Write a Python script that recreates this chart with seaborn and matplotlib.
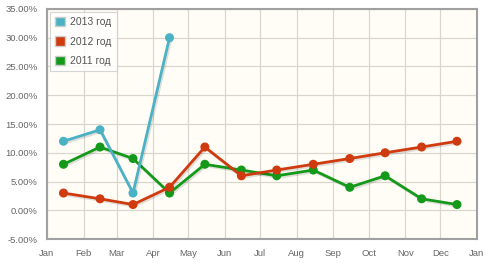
import seaborn as sns
import pandas as pd
import matplotlib.pyplot as plt
import matplotlib.dates as mdates
import matplotlib.patheffects as pe
from matplotlib.patches import Patch

# Monthly values, percent (points sit mid-month)
months = pd.date_range("2013-01-01", periods=12, freq="MS") + pd.Timedelta(days=14)
values_2013 = [12, 14, 3, 30]
values_2012 = [3, 2, 1, 4, 11, 6, 7, 8, 9, 10, 11, 12]
values_2011 = [8, 11, 9, 3, 8, 7, 6, 7, 4, 6, 2, 1]
series_names = ["2013 год", "2012 год", "2011 год"]
colors = {"2013 год": "#4bb2c5", "2012 год": "#cf3a0e", "2011 год": "#14991a"}
y_ticks = [-5, 0, 5, 10, 15, 20, 25, 30, 35]


def build_frame():
    parts = []
    for name, vals in zip(series_names, [values_2013, values_2012, values_2011]):
        parts.append(pd.DataFrame({"date": months[:len(vals)], "value": vals, "series": name}))
    return pd.concat(parts, ignore_index=True)


def main():
    data = build_frame()
    sns.set_style("white")
    plt.rcParams['font.family'] = ['Liberation Sans', 'DejaVu Sans']

    fig = plt.figure(figsize=(5, 2.63), dpi=100)
    ax = fig.add_axes([0.094, 0.091, 0.86, 0.875])
    ax.set_facecolor("#fffdf6")

    # draw oldest first so 2013 ends up on top
    for name in reversed(series_names):
        sub = data[data["series"] == name]
        sns.lineplot(data=sub, x="date", y="value", color=colors[name], marker="o",
                     markersize=6.5, markeredgewidth=0, linewidth=2, ax=ax, legend=False)
    for line in ax.get_lines():
        line.set_path_effects([pe.SimpleLineShadow(offset=(1, -1.2), alpha=0.12), pe.Normal()])

    ax.set_xlim(pd.Timestamp("2013-01-01"), pd.Timestamp("2014-01-01"))
    ax.xaxis.set_major_locator(mdates.MonthLocator())
    ax.xaxis.set_major_formatter(mdates.DateFormatter("%b"))
    ax.set_ylim(-5, 35)
    ax.set_yticks(y_ticks)
    ax.set_yticklabels([f"{v:.2f}%" for v in y_ticks])
    ax.set_xlabel("")
    ax.set_ylabel("")

    ax.grid(True, color="#d9d6cc", linewidth=0.9)
    ax.set_axisbelow(True)
    for spine in ax.spines.values():
        spine.set_color("#a0a0a0")
        spine.set_linewidth(1.5)
    ax.tick_params(axis="both", labelsize=6.8, colors="#666666", length=4, width=0.8,
                   direction="out", pad=3)
    ax.tick_params(axis="both", color="#aaaaaa")

    handles = [Patch(facecolor=colors[n], edgecolor="#cccccc", label=n) for n in series_names]
    leg = ax.legend(handles=handles, loc="upper left", fontsize=7.5, frameon=True,
                    borderaxespad=0.25, handlelength=1.0, handleheight=1.0,
                    handletextpad=0.5, labelspacing=0.9, borderpad=0.5, fancybox=False)
    leg.get_frame().set_edgecolor("#cccccc")
    leg.get_frame().set_facecolor("#ffffff")
    leg.get_frame().set_linewidth(0.8)
    for t in leg.get_texts():
        t.set_color("#555555")

    fig.savefig("out.png", dpi=100)


if __name__ == "__main__":
    main()
